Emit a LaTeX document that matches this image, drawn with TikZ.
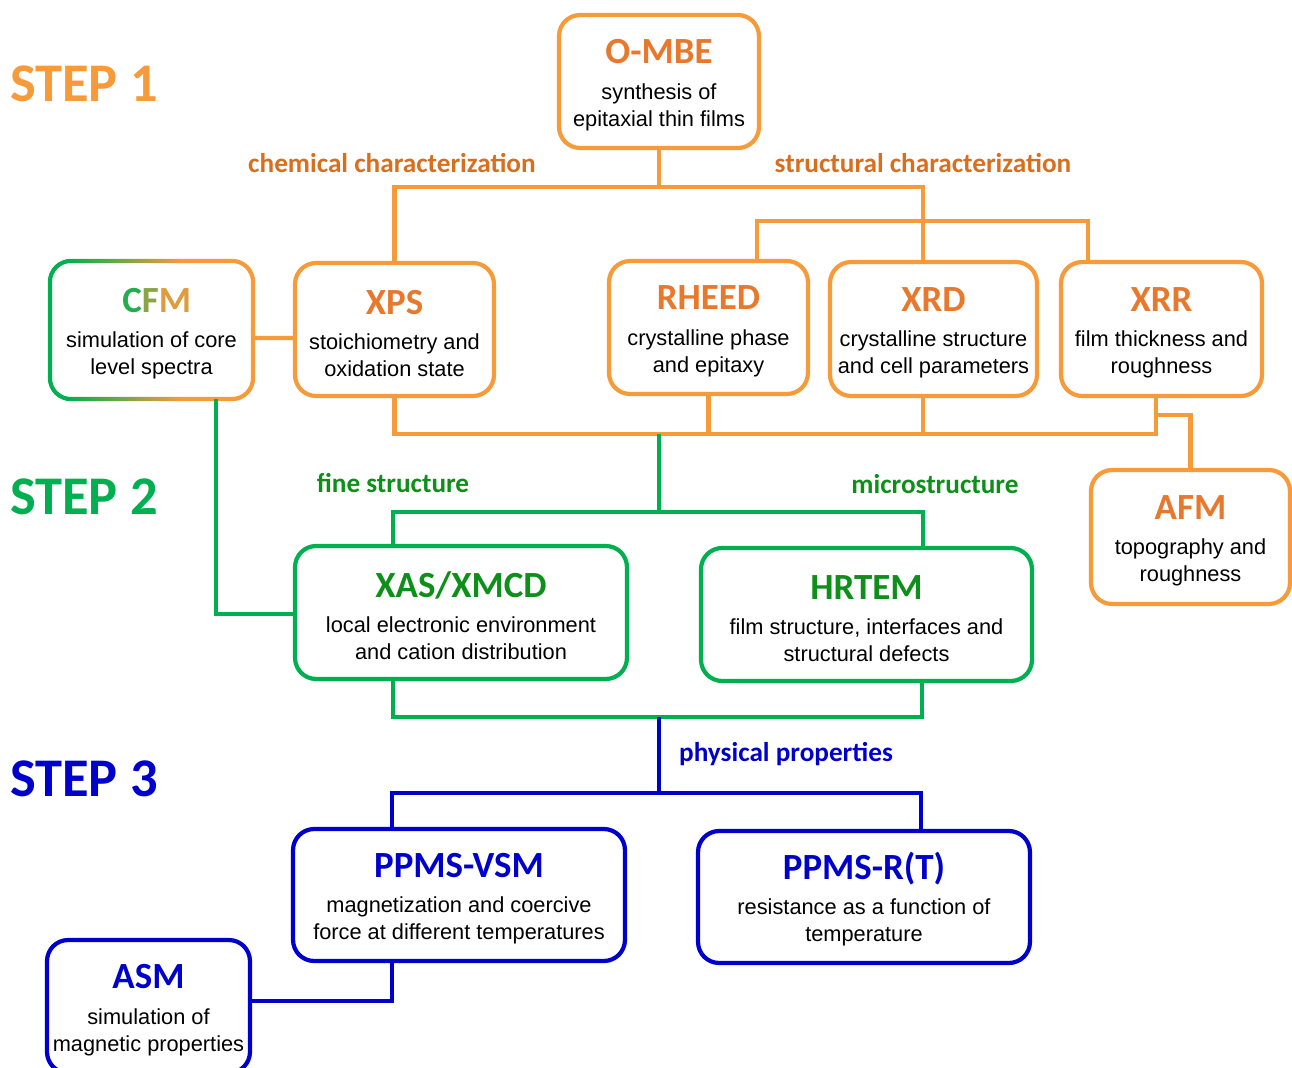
\documentclass[tikz,border=0pt]{standalone}
\usepackage{fontspec}
\setmainfont{Liberation Sans}
\newfontfamily\titlefont{Carlito}
\usetikzlibrary{calc}
\definecolor{orange}{HTML}{F79A3A}
\definecolor{orangetext}{HTML}{E8782C}
\definecolor{orangelabel}{HTML}{D86F1F}
\definecolor{green}{HTML}{00B050}
\definecolor{greentext}{HTML}{0E8F1A}
\definecolor{blue}{HTML}{0000CC}
\pgfdeclarehorizontalshading{cfmshade}{100bp}{color(0bp)=(green); color(30bp)=(green); color(57bp)=(orange); color(100bp)=(orange)}
\newcommand\boxtitle[2]{{\color{#1}\titlefont\bfseries\fontsize{21}{21}\selectfont\rule{0pt}{18pt}#2}\\[4.8pt]}

\begin{document}
\begin{tikzpicture}[x=0.02cm,y=-0.02cm]
    \tikzstyle{techbox}=[rectangle, rounded corners=12pt, line width=2.4pt
    , align=center, inner sep=0pt
    , font=\fontsize{12.4}{15.3}\selectfont]
    \tikzstyle{orangebox}=[techbox, draw=orange]
    \tikzstyle{greenbox}=[techbox, draw=green]
    \tikzstyle{bluebox}=[techbox, draw=blue]
    \tikzstyle{link}=[line width=2.3pt]
    \tikzstyle{steplabel}=[font=\titlefont\bfseries\fontsize{31}{31}\selectfont]
    \tikzstyle{branchlabel}=[font=\titlefont\bfseries\fontsize{15.5}{15.5}\selectfont]
    \useasboundingbox (0,0) rectangle (1292,1068);
    % Step 1 boxes
    \node[orangebox, minimum width=4cm, minimum height=2.66cm] (ombe) at (659,81.5)
      {\boxtitle{orangetext}{O-MBE}synthesis of\\epitaxial thin films};
    \node[techbox, minimum width=3.98cm, minimum height=2.68cm] (cfm) at (151.5,330)
      {\boxtitle{orangetext}{\hspace{6pt}\color{green!85!orange}C\color{green!45!orange}F\color{orange!90!green}M}simulation of core\\level spectra};
    \node[orangebox, minimum width=3.98cm, minimum height=2.66cm] (xps) at (394.5,329.5)
      {\boxtitle{orangetext}{XPS}stoichiometry and\\oxidation state};
    \node[orangebox, minimum width=3.98cm, minimum height=2.66cm] (rheed) at (708.5,327.5)
      {\boxtitle{orangetext}{RHEED}crystalline phase\\and epitaxy};
    \node[orangebox, minimum width=4.14cm, minimum height=2.68cm] (xrd) at (933.5,329)
      {\boxtitle{orangetext}{XRD}crystalline structure\\and cell parameters};
    \node[orangebox, minimum width=4.02cm, minimum height=2.68cm] (xrr) at (1161.5,329)
      {\boxtitle{orangetext}{XRR}film thickness and\\roughness};
    \node[orangebox, minimum width=3.98cm, minimum height=2.68cm] (afm) at (1190.5,537)
      {\boxtitle{orangetext}{AFM}topography and\\roughness};
    % CFM border goes from green to orange
    \shade[shading=cfmshade, even odd rule, rounded corners=13.2pt]
      ([shift={(-1.2pt,-1.2pt)}]cfm.south west) rectangle ([shift={(1.2pt,1.2pt)}]cfm.north east)
      [rounded corners=10.8pt]
      ([shift={(1.2pt,1.2pt)}]cfm.south west) rectangle ([shift={(-1.2pt,-1.2pt)}]cfm.north east);
    % Step 2 boxes
    \node[greenbox, minimum width=6.64cm, minimum height=2.66cm] (xas) at (461,612.5)
      {\boxtitle{greentext}{XAS/XMCD}local electronic environment\\and cation distribution};
    \node[greenbox, minimum width=6.62cm, minimum height=2.66cm] (hrtem) at (866.5,614.5)
      {\boxtitle{greentext}{HRTEM}film structure, interfaces and\\structural defects};
    % Step 3 boxes
    \node[bluebox, minimum width=6.64cm, minimum height=2.64cm] (vsm) at (459,895)
      {\boxtitle{blue}{PPMS-VSM}magnetization and coercive\\force at different temperatures};
    \node[bluebox, minimum width=6.64cm, minimum height=2.64cm] (ppmsr) at (864,897)
      {\boxtitle{blue}{PPMS-R(T)}resistance as a function of\\temperature};
    \node[bluebox, minimum width=4.06cm, minimum height=2.66cm] (asm) at (148.5,1006.5)
      {\boxtitle{blue}{ASM}simulation of\\magnetic properties};
    % Orange lines
    \draw[link, orange] (ombe.south) -- ++(0,37) coordinate (chemfork);
    \draw[link, orange] (xps.north) |- (chemfork) -| ($(xrd.north)+(-10.5,0)$);
    \draw[link, orange] ($(rheed.north)+(48.5,0)$) -- ++(0,-38) -| ($(xrr.north)+(-73.5,0)$);
    \draw[link, orange] ($(cfm.east)+(0,8)$) -- ($(xps.west)+(0,8.5)$);
    \draw[link, orange] (xps.south) -- ++(0,36) coordinate (chembus) -| ($(xrr.south)+(-5.5,0)$);
    \draw[link, orange] (rheed.south) -- (rheed.south |- chembus);
    \draw[link, orange] ($(xrd.south)+(-10.5,0)$) -- ++(0,36);
    \draw[link, orange] (afm.north) |- ($(xrr.south)+(-5.5,17)$);
    % Green lines
    \draw[link, green] (ombe.south |- chembus) -- ++(0,78) coordinate (finefork);
    \draw[link, green] ($(xas.north)+(-68,0)$) |- (finefork) -| ($(hrtem.north)+(56.5,0)$);
    \draw[link, green] ($(cfm.south)+(64.5,0)$) |- ($(xas.west)+(0,1.5)$);
    \draw[link, green] ($(xas.south)+(-68,0)$) -- ++(0,36) coordinate (structbus) -| ($(hrtem.south)+(55.5,0)$);
    % Blue lines
    \draw[link, blue] (ombe.south |- structbus) -- ++(0,76) coordinate (physfork);
    \draw[link, blue] ($(vsm.north)+(-67,0)$) |- (physfork) -| ($(ppmsr.north)+(57,0)$);
    \draw[link, blue] ($(vsm.south)+(-67,0)$) |- ($(asm.east)+(0,-5.5)$);
    % Labels
    \node[steplabel, text=orange] (step1) at (84,84) {STEP 1};
    \node[steplabel, text=green] (step2) at (84,497) {STEP 2};
    \node[steplabel, text=blue] (step3) at (84,779) {STEP 3};
    \node[branchlabel, text=orangelabel] (chem) at (392,163) {chemical characterization};
    \node[branchlabel, text=orangelabel] (struct) at (923,163) {structural characterization};
    \node[branchlabel, text=greentext] (fine) at (393,483) {fine structure};
    \node[branchlabel, text=greentext] (micro) at (935,484) {microstructure};
    \node[branchlabel, text=blue, anchor=west] (phys) at (673,754) {physical properties};
\end{tikzpicture}
\end{document}
